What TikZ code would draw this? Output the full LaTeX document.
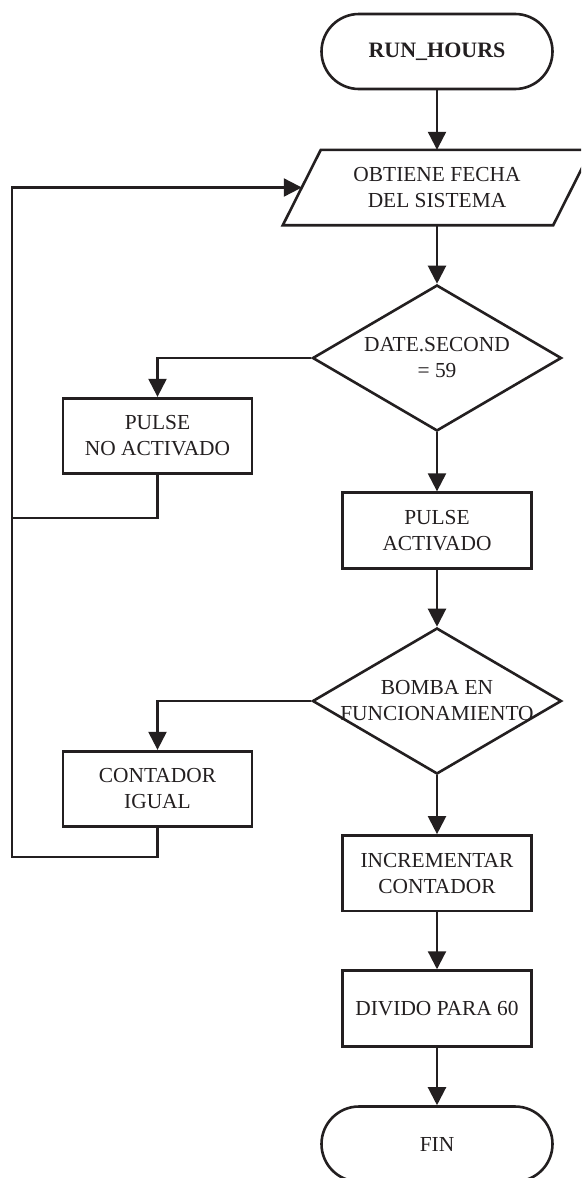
\documentclass[tikz,border=0pt]{standalone}
\usepackage{fontspec}
\setmainfont{Liberation Serif}
\usetikzlibrary{shapes.geometric,shapes.misc,arrows.meta}
\definecolor{ink}{HTML}{231F20}

\begin{document}
\begin{tikzpicture}[x=1pt,y=-1pt,
  every node/.style={text=ink, font=\fontsize{21.4}{26}\selectfont, align=center},
  terminal/.style={draw=ink, line width=2.6pt, rounded rectangle, minimum width=231pt, minimum height=75pt, inner sep=0pt},
  procbox/.style={draw=ink, line width=2.8pt, rectangle, minimum width=189pt, minimum height=75.5pt, inner sep=0pt},
  decision/.style={draw=ink, line width=2.6pt, diamond, minimum width=249pt, minimum height=146pt, inner sep=0pt},
  flow/.style={draw=ink, line width=2.2pt},
  arrowflow/.style={flow, -{Triangle[length=18pt,width=18pt]}},
]
\useasboundingbox (0,0) rectangle (581,1178);
\clip (0,0) rectangle (581,1178);
\fill[white] (0,0) rectangle (581,1178);

% main column
\node[terminal, font=\bfseries\fontsize{22}{26}\selectfont] (start) at (437,51.5) {RUN\_HOURS};

\node[minimum width=270pt, minimum height=75pt, inner sep=0pt] (fecha) at (437,187.5) {OBTIENE FECHA\\DEL SISTEMA};
\draw[ink, line width=2.6pt, line join=miter]
  ([xshift=-19pt]fecha.south west) -- ([xshift=19pt]fecha.north west) --
  ([xshift=19pt]fecha.north east) -- ([xshift=-19pt]fecha.south east) -- cycle;

\node[decision] (d1) at (437,358) {\makebox[0pt]{DATE.SECOND}\\\makebox[0pt]{= 59}};
\node[procbox] (pa) at (437,530.5) {PULSE\\ACTIVADO};
\node[decision] (d2) at (437,701) {\makebox[0pt]{BOMBA EN}\\\makebox[0pt]{FUNCIONAMIENTO}};
\node[procbox] (inc) at (437,873.3) {INCREMENTAR\\CONTADOR};
\node[procbox] (div) at (437,1008.4) {DIVIDO PARA 60};
\node[terminal] (fin) at (437,1144) {FIN};

% left column
\node[procbox] (pna) at (157.5,436) {PULSE\\NO ACTIVADO};
\node[procbox] (ci) at (157.5,789) {CONTADOR\\IGUAL};

% loop-back route
\coordinate (jn) at (12,518);
\coordinate (lb) at (12,857);
\coordinate (lt) at (12,187.5);

% connectors
\draw[arrowflow] (start.south) -- (fecha.north);
\draw[arrowflow] (fecha.south) -- (d1.north);
\draw[arrowflow] (d1.south) -- (pa.north);
\draw[arrowflow] (d1.west) -| (pna.north);
\draw[arrowflow] (pa.south) -- (d2.north);
\draw[arrowflow] (d2.south) -- (inc.north);
\draw[arrowflow] (d2.west) -| (ci.north);
\draw[arrowflow] (inc.south) -- (div.north);
\draw[arrowflow] (div.south) -- (fin.north);
\draw[flow] (pna.south) |- (jn);
\draw[arrowflow] (ci.south) |- (lb) -- (lt) -- (fecha.west);
\end{tikzpicture}
\end{document}
